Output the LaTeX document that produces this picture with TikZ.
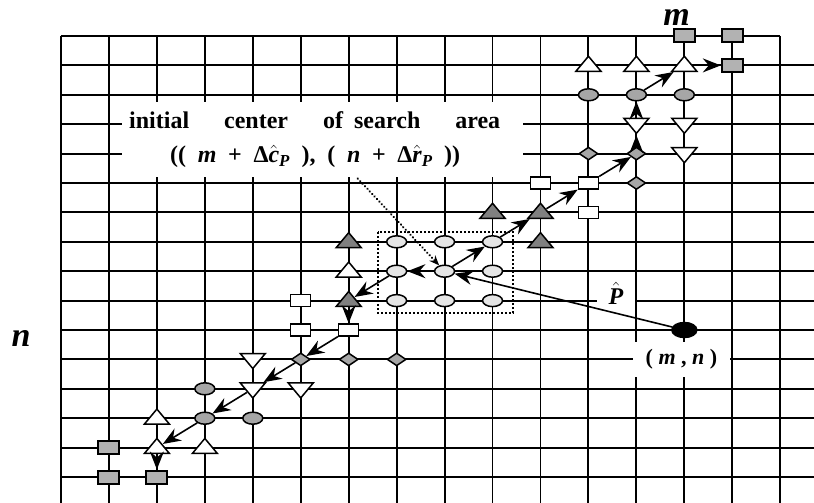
\documentclass[tikz,border=0pt]{standalone}
\usepackage{amsmath}
\usepackage{fontspec}
\setmainfont{Liberation Serif}
\usepackage{tikz}
\usetikzlibrary{arrows.meta,shapes.geometric}

\begin{document}
\begin{tikzpicture}[x=47.95pt,y=-29.4pt,
gridline/.style={line width=1.9pt},
mk/.style={draw,line width=1.5pt,inner sep=0pt},
sq/.style={mk,rectangle,minimum width=21pt,minimum height=13pt,fill=black!30,line width=2pt},
box/.style={mk,rectangle,minimum width=20pt,minimum height=12pt,fill=white},
ell/.style={mk,ellipse,minimum width=20pt,minimum height=12pt,fill=black!35},
cell/.style={ell,fill=black!10},
dia/.style={mk,diamond,minimum width=19pt,minimum height=13pt,fill=black!35},
up/.style={mk,isosceles triangle,isosceles triangle stretches,shape border rotate=90,minimum width=25pt,minimum height=15pt,fill=white},
dn/.style={up,shape border rotate=270},
dup/.style={up,fill=black!50},
arr/.style={line width=1.6pt,-{Stealth[length=18pt,width=14pt,inset=6pt]}},
dotarr/.style={line width=2.4pt,line cap=round,dash pattern=on 0.1pt off 3.4pt,-{Stealth[length=10pt,width=8pt]}},
lblbox/.style={fill=white,inner sep=0pt,text width=401pt,minimum height=75pt,align=left,font=\fontsize{24}{34}\selectfont\bfseries},
axlbl/.style={inner sep=0pt,anchor=base,font=\fontsize{34}{40}\selectfont\bfseries\itshape}
]
\useasboundingbox (-1.272,-1.2245) rectangle (15.704,15.884);
% grid
\foreach \i in {0,...,15} \draw[gridline] (\i,0) -- (\i,15.884);
\draw[gridline] (0,0) -- (15,0);
\foreach \j in {1,...,15} \draw[gridline] (0,\j) -- (15.704,\j);

% labels on white
\node[lblbox,anchor=north west] (lbl) at (1.272,2.245) {\hspace*{7pt}\makebox[371pt][l]{initial\hfill center\hfill of\hspace{11pt}search\hfill area}\\
\hspace*{48pt}\makebox[290pt][l]{((\hfill\textit{m}\hfill+\hfill Δ$\hat{\text{\itshape c}}_{\text{\itshape P}}$\hfill),\hfill(\hfill\textit{n}\hfill+\hfill Δ$\hat{\text{\itshape r}}_{\text{\itshape P}}$\hfill))}};
\coordinate (foot) at (6.19,4.85);
\node[fill=white,inner sep=0pt,minimum width=38pt,minimum height=26pt,font=\fontsize{24}{28}\selectfont] (phat) at (11.575,8.741) {$\hat{\text{\bfseries\itshape P}}$};
\node[fill=white,inner sep=0pt,minimum width=97pt,minimum height=35pt,font=\fontsize{22}{26}\selectfont\bfseries] (mnlbl) at (12.94,11.003) {( \textit{m} , \textit{n} )};
\node[axlbl] (mlbl) at (12.836,-0.374) {m};
\node[axlbl] (nlbl) at (-0.834,10.578) {n};

% search area
\draw[line width=1.6pt,dash pattern=on 1.6pt off 2.4pt] (6.611,6.667) rectangle (9.427,9.422);
\node[cell] (a1) at (7,7) {};
\node[cell] (a2) at (8,7) {};
\node[cell] (u1) at (9,7) {};
\node[cell] (d1) at (7,8) {};
\node[cell] (c) at (8,8) {};
\node[cell] (a3) at (9,8) {};
\node[cell] (a4) at (7,9) {};
\node[cell] (a5) at (8,9) {};
\node[cell] (a6) at (9,9) {};

% upper steps
\node[dup] (g1) at (9,6) {};
\node[dup] (u2) at (10,6) {};
\node[dup] (g2) at (10,7) {};
\node[box] (b1) at (10,5) {};
\node[box] (u3) at (11,5) {};
\node[box] (b2) at (11,6) {};
\node[dia] (k1) at (11,4) {};
\node[dia] (u4) at (12,4) {};
\node[dia] (k2) at (12,5) {};
\node[dn] (u5) at (12,3) {};
\node[dn] (v1) at (13,3) {};
\node[dn] (v2) at (13,4) {};
\node[ell] (e1) at (11,2) {};
\node[ell] (u6) at (12,2) {};
\node[ell] (e2) at (13,2) {};
\node[up] (t1) at (11,1) {};
\node[up] (t2) at (12,1) {};
\node[up] (u7) at (13,1) {};
\node[sq] (q1) at (13,0) {};
\node[sq] (q2) at (14,0) {};
\node[sq] (u8) at (14,1) {};

% lower steps
\node[dup] (g3) at (6,7) {};
\node[up] (t3) at (6,8) {};
\node[dup] (d2) at (6,9) {};
\node[box] (b3) at (5,9) {};
\node[box] (b4) at (5,10) {};
\node[box] (d3) at (6,10) {};
\node[dia] (d4) at (5,11) {};
\node[dia] (k3) at (6,11) {};
\node[dia] (k4) at (7,11) {};
\node[dn] (v3) at (4,11) {};
\node[dn] (d5) at (4,12) {};
\node[dn] (v4) at (5,12) {};
\node[ell] (e3) at (3,12) {};
\node[ell] (d6) at (3,13) {};
\node[ell] (e4) at (4,13) {};
\node[up] (t4) at (2,13) {};
\node[up] (d7) at (2,14) {};
\node[up] (t5) at (3,14) {};
\node[sq] (q3) at (1,14) {};
\node[sq] (q4) at (1,15) {};
\node[sq] (d8) at (2,15) {};

\node[mk,ellipse,fill=black,minimum width=25pt,minimum height=15pt] (mn) at (13,10) {};

% motion search path
\draw[arr] (c)--(u1); \draw[arr] (u1)--(u2); \draw[arr] (u2)--(u3); \draw[arr] (u3)--(u4);
\draw[arr] (u4)--(u5); \draw[arr] (u5)--(u6); \draw[arr] (u6)--(u7); \draw[arr] (u7)--(u8);
\draw[arr] (c)--(d1); \draw[arr] (d1)--(d2); \draw[arr] (d2)--(d3); \draw[arr] (d3)--(d4);
\draw[arr] (d4)--(d5); \draw[arr] (d5)--(d6); \draw[arr] (d6)--(d7); \draw[arr] (d7)--(d8);
\draw[arr] (mn)--(c);
\draw[dotarr] (foot)--(c);
\end{tikzpicture}
\end{document}
